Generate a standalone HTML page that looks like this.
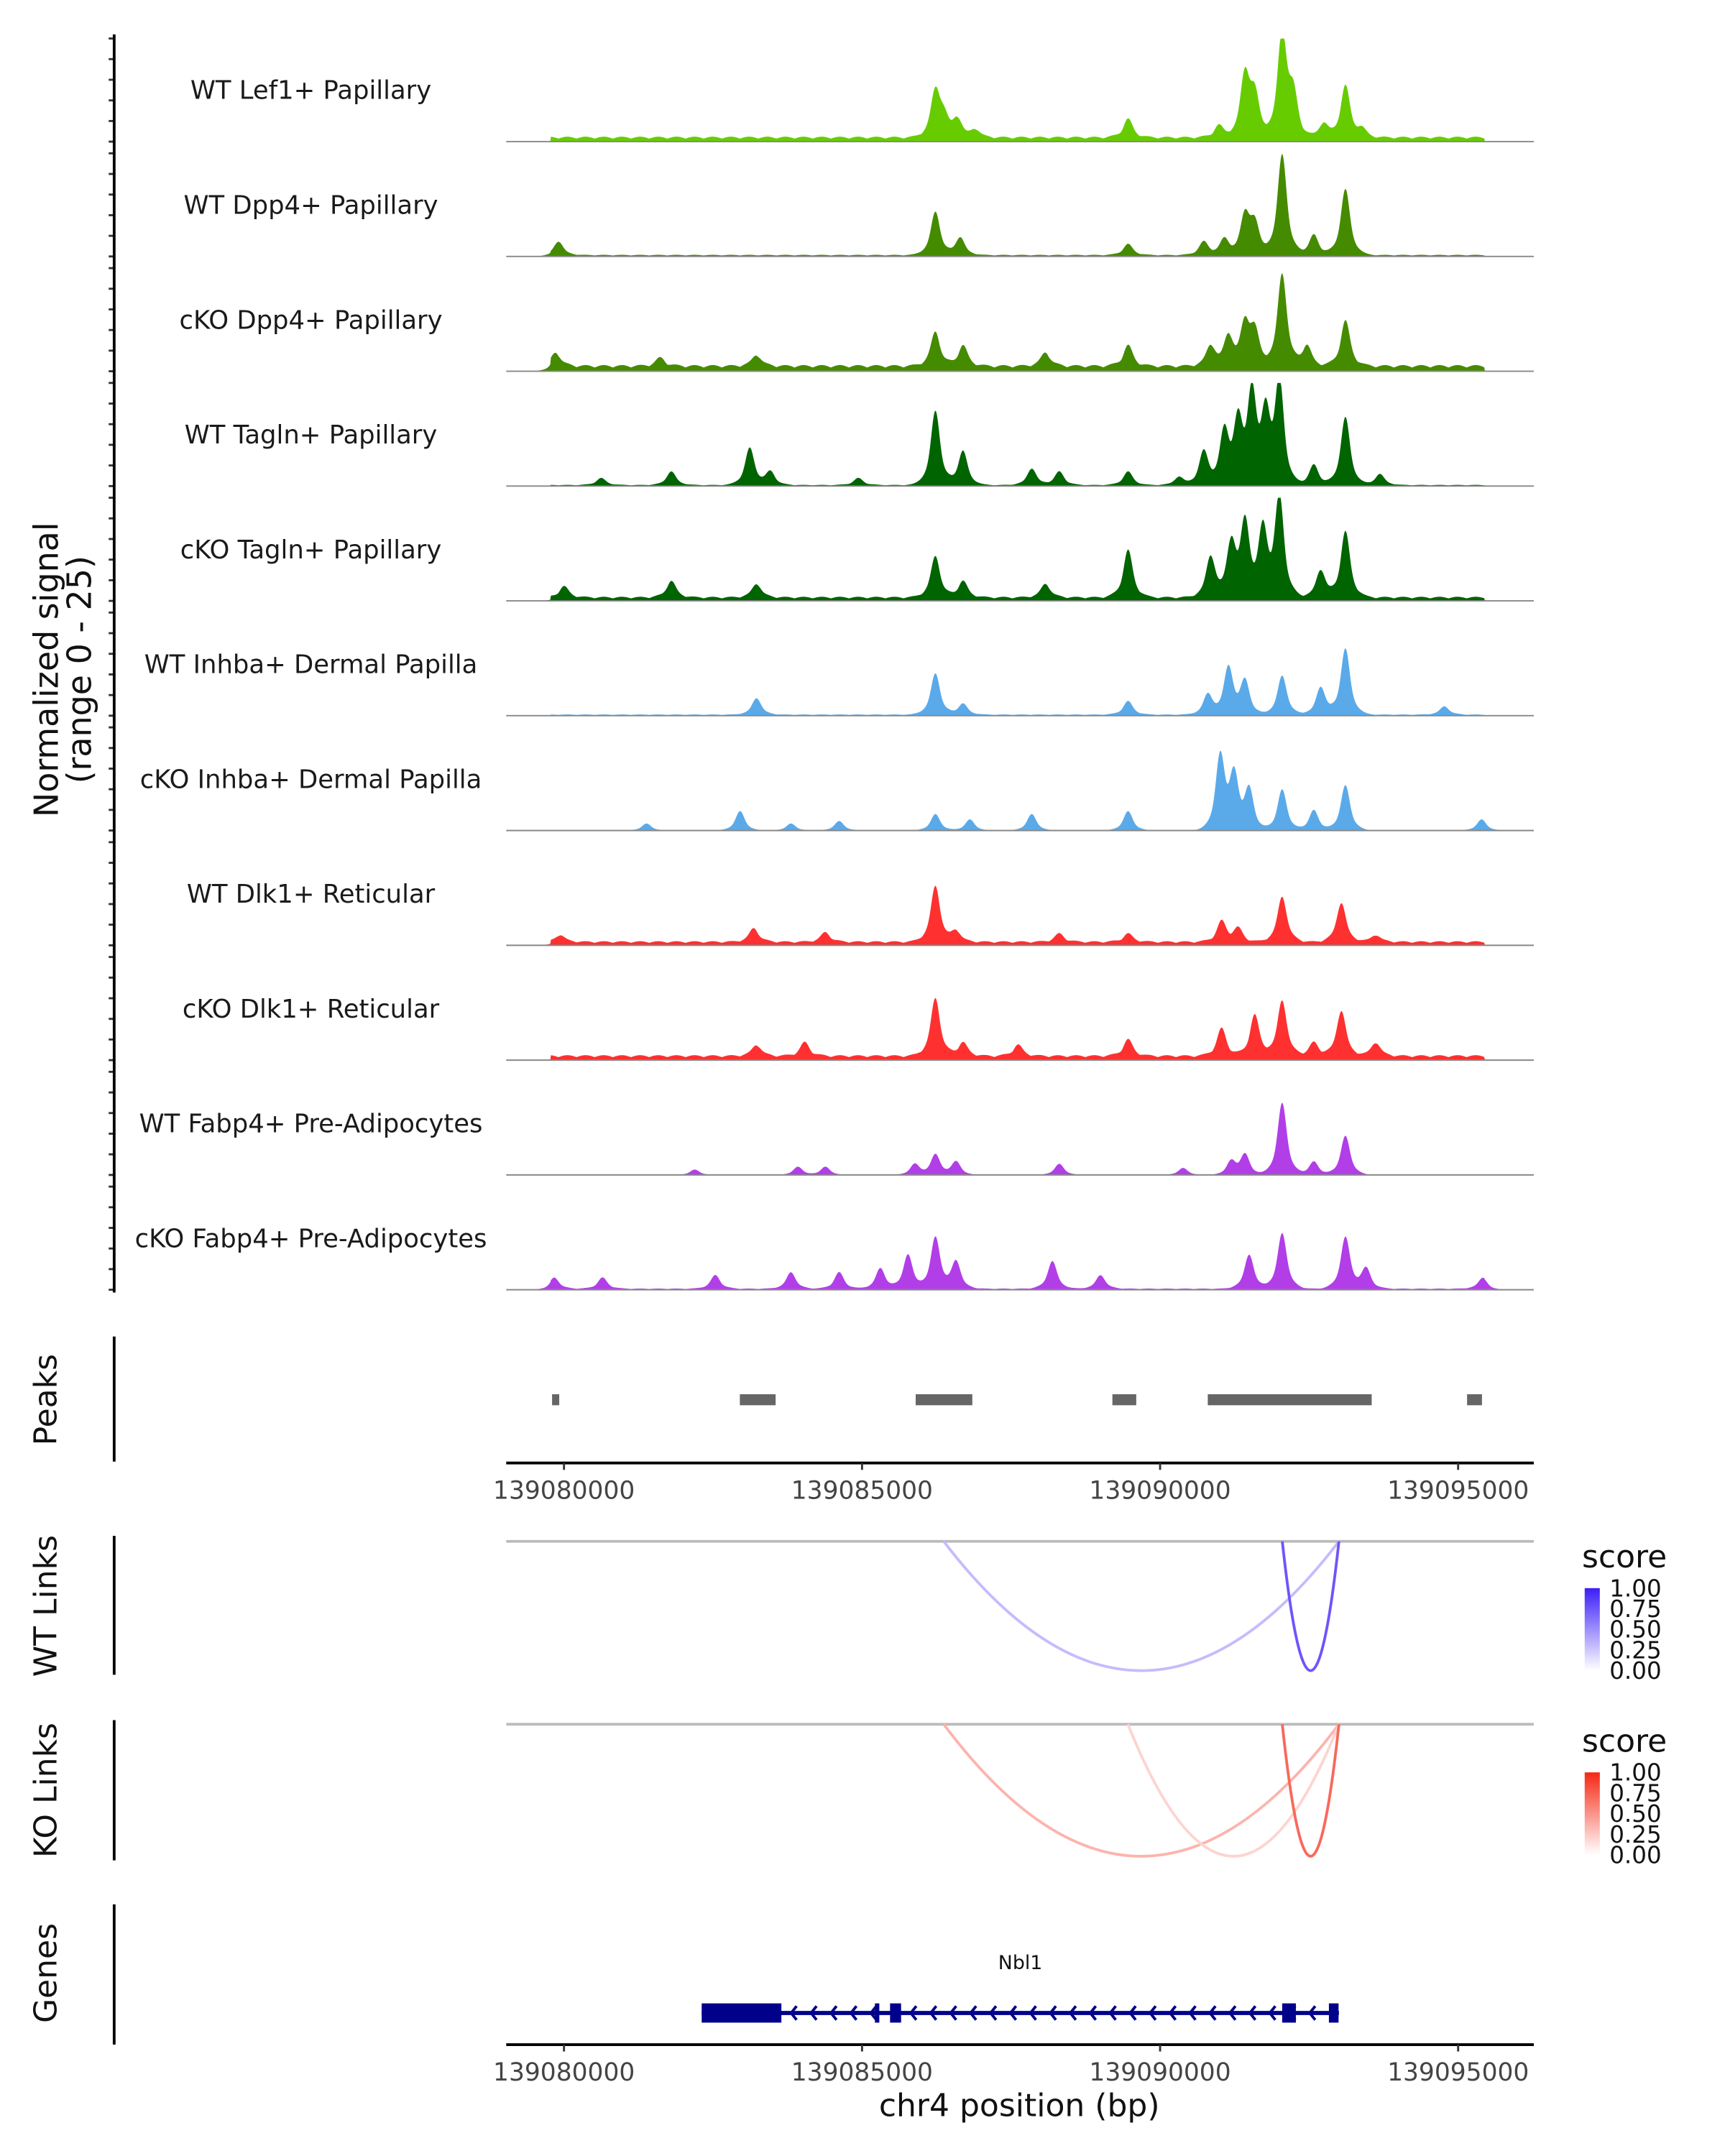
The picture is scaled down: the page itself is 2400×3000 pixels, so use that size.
<!DOCTYPE html>
<html><head><meta charset="utf-8"><style>
html,body{margin:0;padding:0;background:#fff}
svg{display:block}
text{font-family:"DejaVu Sans","Liberation Sans",sans-serif}
</style></head><body>
<svg id="fig" xmlns="http://www.w3.org/2000/svg" width="2400" height="3000" viewBox="0 0 1254 1568" preserveAspectRatio="none">
<g id="tracks"></g>
<text transform="translate(42,487) rotate(-90)" text-anchor="middle" font-size="24" fill="#111">Normalized signal</text>
<text transform="translate(66,487) rotate(-90)" text-anchor="middle" font-size="24" fill="#111">(range 0 - 25)</text>
<line x1="83" y1="25" x2="83" y2="940" stroke="#000" stroke-width="2"/>
<line x1="83" y1="972" x2="83" y2="1063" stroke="#000" stroke-width="2"/>
<text transform="translate(41,1018) rotate(-90)" text-anchor="middle" font-size="23" fill="#111">Peaks</text>
<g id="peaks"></g>
<g id="axis1"></g>
<line x1="83" y1="1117" x2="83" y2="1218" stroke="#000" stroke-width="2"/>
<text transform="translate(41,1168) rotate(-90)" text-anchor="middle" font-size="23" fill="#111">WT Links</text>
<line x1="83" y1="1251" x2="83" y2="1353" stroke="#000" stroke-width="2"/>
<text transform="translate(41,1302) rotate(-90)" text-anchor="middle" font-size="23" fill="#111">KO Links</text>
<g id="links"></g>
<line x1="83" y1="1385" x2="83" y2="1487" stroke="#000" stroke-width="2"/>
<text transform="translate(41,1435) rotate(-90)" text-anchor="middle" font-size="23" fill="#111">Genes</text>
<g id="genes"></g>
<g id="axis2"></g>
<text x="741" y="1539" text-anchor="middle" font-size="23" fill="#111">chr4 position (bp)</text>
<defs>
<linearGradient id="gb" x1="0" y1="1" x2="0" y2="0"><stop offset="0" stop-color="#fff"/><stop offset="1" stop-color="#3c1ef8"/></linearGradient>
<linearGradient id="gr" x1="0" y1="1" x2="0" y2="0"><stop offset="0" stop-color="#fff"/><stop offset="1" stop-color="#f52814"/></linearGradient>
</defs>
<g>
<text x="1150" y="1140" font-size="23" fill="#111">score</text>
<rect x="1152" y="1155" width="11" height="60" fill="url(#gb)"/>
<text x="1170" y="1161" font-size="17" fill="#111">1.00</text><text x="1170" y="1176" font-size="17" fill="#111">0.75</text><text x="1170" y="1191" font-size="17" fill="#111">0.50</text><text x="1170" y="1206" font-size="17" fill="#111">0.25</text><text x="1170" y="1221" font-size="17" fill="#111">0.00</text>
</g>
<g>
<text x="1150" y="1274" font-size="23" fill="#111">score</text>
<rect x="1152" y="1289" width="11" height="60" fill="url(#gr)"/>
<text x="1170" y="1295" font-size="17" fill="#111">1.00</text><text x="1170" y="1310" font-size="17" fill="#111">0.75</text><text x="1170" y="1325" font-size="17" fill="#111">0.50</text><text x="1170" y="1340" font-size="17" fill="#111">0.25</text><text x="1170" y="1355" font-size="17" fill="#111">0.00</text>
</g>
</svg>
<script>
// ---- data ----
const START = 139080000;
const trackNames = ["WT Lef1+ Papillary","WT Dpp4+ Papillary","cKO Dpp4+ Papillary","WT Tagln+ Papillary","cKO Tagln+ Papillary","WT Inhba+ Dermal Papilla","cKO Inhba+ Dermal Papilla","WT Dlk1+ Reticular","cKO Dlk1+ Reticular","WT Fabp4+ Pre-Adipocytes","cKO Fabp4+ Pre-Adipocytes"];
const trackColors = ["#66cc00","#458b00","#458b00","#006400","#006400","#5aaaea","#5aaaea","#ff3030","#ff3030","#b23ee8","#b23ee8"];
const trackBackground = [1.2,0.4,1.5,0.3,1.0,0.3,0,1.0,1.2,0,0.3];
// peak offsets (bp from 139080000) and heights (signal units, 0-25)
const peakOffsets = [
 [6231,6370,6600,6901,9463,10986,11425,11586,12048,12232,12740,13109,13386],
 [-92,6231,6647,9463,10732,11078,11425,11586,12048,12579,13109],
 [-138,1616,3231,6231,6693,8078,9463,10848,11147,11425,11586,12048,12463,13109],
 [623,1800,3116,3462,4939,6231,6693,7847,8309,9463,10317,10732,11078,11309,11540,11771,12002,12579,13109,13686],
 [0,1800,3231,6231,6693,8078,9463,10848,11194,11425,11725,12002,12694,13109],
 [3231,6231,6693,9463,10801,11147,11425,12048,12694,13109,14771],
 [1385,2954,3808,4616,6231,6809,7847,9463,11009,11240,11494,12048,12579,13109,15394],
 [-69,3185,4385,6231,6578,8309,9463,11032,11309,12048,13040,13617],
 [3231,4039,6231,6693,7616,9463,11032,11586,12048,12579,13040,13617],
 [2193,3924,4385,5885,6231,6578,8309,10386,11194,11425,12048,12579,13109],
 [-162,646,2539,3808,4616,5308,5770,6231,6578,8193,9001,11494,12048,13109,13456,15417]
];
const peakHeights = [
 [11,4.5,4.5,2,4.5,3,15,10,25,10,3.5,12.5,2],
 [3.3,10.5,4.3,2.7,3.3,4,9.5,7.5,24.5,5,16],
 [3.3,2,2.7,8.3,5,3.3,5,5,7.3,10,8.3,22.5,5,11],
 [1.7,3.3,9,3.3,1.7,18,8.3,4,3.3,3.3,2,8.3,13,15,22,16.5,25,5,16.5,2.7],
 [2.7,4,3.3,10,4,3.3,11.5,10,13,18,16.5,24.5,6.7,16],
 [4,10,2.7,3.3,5,11.5,8.3,9.5,6.7,16,2],
 [1.7,4.7,1.7,2.3,4,2.7,4,4.7,18,13,10,10,5,11,2.7],
 [1.7,3.3,2.3,13.5,2.7,2,2,5,3.3,11,9.5,1.7],
 [2.7,3.3,14,3.3,2.7,4,6.7,10,13.5,3.3,11,3.3],
 [1.3,2,2,2.7,5,3.3,2.7,1.7,3.3,5,17.5,3.3,9.5],
 [2.7,2.7,3.3,4,4,5,8.3,12.5,6.7,6.7,3.3,8.3,13.5,12.5,5,2.7]
];
const peakStarts = [139079800,139082950,139085900,139089200,139090800,139095150];
const peakEnds   = [139079920,139083550,139086850,139089600,139093550,139095400];
const axisTicks = [139080000,139085000,139090000,139095000];
const linkStartWT = [139086370,139092050];
const linkEndWT   = [139093000,139093000];
const linkScoreWT = [0.3,0.75];
const linkStartKO = [139086370,139089460,139092050];
const linkEndKO   = [139093000,139093000,139093000];
const linkScoreKO = [0.35,0.2,0.7];
const geneName = "Nbl1";
const geneStart = 139082310, geneEnd = 139093000;
const exonStarts = [139082310,139085216,139085470,139092048,139092832];
const exonEnds   = [139083647,139085290,139085655,139092278,139092994];

// ---- scales ----
const NS="http://www.w3.org/2000/svg";
const X0=368, X1=1115;
function xs(bp){ return 410 + (bp-139080000)*650/15000; }
function xinv(px){ return 139080000 + (px-410)*15000/650; }
const PXU = 3; // px per signal unit
function mk(tag, attrs, parent){ const e=document.createElementNS(NS,tag); for(const k in attrs) e.setAttribute(k,attrs[k]); parent.appendChild(e); return e; }

// ---- signal tracks ----
const gT=document.getElementById('tracks');
trackNames.forEach((name,i)=>{
  const base = 103 + i*83.5;
  const g = mk('g',{},gT);
  
  
  const lab = mk('text',{x:226,y:base-31,'text-anchor':'middle','font-size':'18.5',fill:'#1a1a1a'},g);
  lab.textContent=name;
  
  
  let d='M'+X0+','+base;
  for(let px=X0; px<=X1; px+=0.5){
    const bp=xinv(px);
    let v=0;
    if(bp>139079780 && bp<139095450) v+=trackBackground[i]*(0.6+0.4*Math.abs(Math.sin(bp/97)));
    peakOffsets[i].forEach((o,k)=>{
      const d1=(bp-(START+o))/90, d2=(bp-(START+o))/220;
      v+=peakHeights[i][k]*(0.7*Math.exp(-d1*d1)+0.3*Math.exp(-d2*d2));
    });
    v=Math.min(v,25);
    d+=' L'+px.toFixed(1)+','+(base-v*PXU).toFixed(2);
  }
  d+=' L'+X1+','+base+' Z';
  const area=mk('path',{d:d,fill:trackColors[i]},g);
  
  
  const bl=mk('line',{x1:X0,y1:base,x2:X1,y2:base,stroke:'#888','stroke-width':1},g);
  
  
  for(let t=0;t<=25;t+=5){
    const tk=mk('line',{x1:79,x2:83,y1:base-t*PXU,y2:base-t*PXU,stroke:'#333','stroke-width':1.5},g);
    
    
  }
});

// ---- peaks ----
const gP=document.getElementById('peaks');
peakStarts.forEach((s,i)=>{
  const r=mk('rect',{x:xs(s),y:1014,width:Math.max(2,xs(peakEnds[i])-xs(s)),height:8,fill:'#666'},gP);
  
  
});

// ---- axes ----
function drawAxis(gid,y){
  const g=document.getElementById(gid);
  const l=mk('line',{x1:X0,x2:X1,y1:y,y2:y,stroke:'#000','stroke-width':2},g);
  
  
  axisTicks.forEach(t=>{
    const tk=mk('line',{x1:xs(t),x2:xs(t),y1:y,y2:y+5,stroke:'#333','stroke-width':1.5},g);
    
    
    const tl=mk('text',{x:xs(t),y:y+26,'text-anchor':'middle','font-size':'18','fill':'#444'},g);
    tl.textContent=String(t);
    
    
  });
}
drawAxis('axis1',1064);
drawAxis('axis2',1487);

// ---- links ----
const gL=document.getElementById('links');
function mix(c,s){ return 'rgb('+c.map(v=>Math.round(255+(v-255)*s)).join(',')+')'; }
function drawLinks(starts,ends,scores,top,bottom,col){
  const bl=mk('line',{x1:X0,x2:X1,y1:top,y2:top,stroke:'#bbb','stroke-width':2},gL);
  
  
  starts.forEach((s,i)=>{
    const a=xs(s), b=xs(ends[i]), m=(a+b)/2;
    const p=mk('path',{d:`M${a},${top} Q${m},${2*bottom-top} ${b},${top}`,fill:'none',stroke:mix(col,scores[i]),'stroke-width':2},gL);
    
    
  });
}
drawLinks(linkStartWT,linkEndWT,linkScoreWT,1121,1215,[60,30,248]);
drawLinks(linkStartKO,linkEndKO,linkScoreKO,1254,1350,[245,40,20]);

// ---- gene ----
const gG=document.getElementById('genes');
const gl=mk('text',{x:(xs(geneStart)+xs(geneEnd))/2,y:1432,'text-anchor':'middle','font-size':'14',fill:'#111'},gG);
gl.textContent=geneName;


const gline=mk('line',{x1:xs(geneStart),x2:xs(geneEnd),y1:1464,y2:1464,stroke:'#00008b','stroke-width':3},gG);


for(let px=xs(geneStart)+65; px<xs(geneEnd)-5; px+=14.5){
  const c=mk('polyline',{points:`${px+4},${1459} ${px},${1464} ${px+4},${1469}`,fill:'none',stroke:'#00008b','stroke-width':2},gG);
  
  
}
exonStarts.forEach((s,i)=>{
  const r=mk('rect',{x:xs(s),y:1457,width:Math.max(3,xs(exonEnds[i])-xs(s)),height:14,fill:'#00008b'},gG);
  
  
});
</script>
</body></html>
